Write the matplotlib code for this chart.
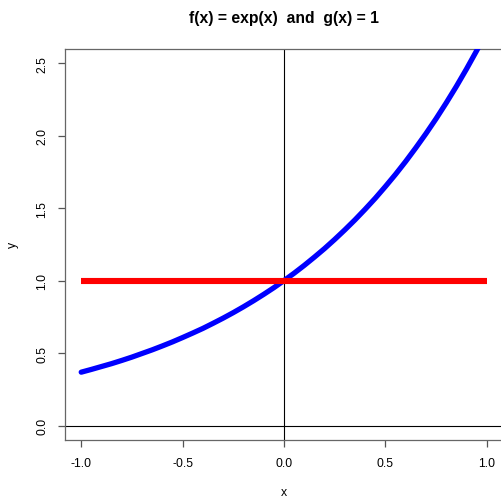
import matplotlib
matplotlib.use("Agg")
import matplotlib.pyplot as plt

plt.rcParams['font.family'] = ['Liberation Sans', 'DejaVu Sans']

# values
x_vals = [-1.0, -0.95, -0.9, -0.85, -0.8, -0.75, -0.7, -0.65, -0.6, -0.55,
          -0.5, -0.45, -0.4, -0.35, -0.3, -0.25, -0.2, -0.15, -0.1, -0.05,
          0.0, 0.05, 0.1, 0.15, 0.2, 0.25, 0.3, 0.35, 0.4, 0.45,
          0.5, 0.55, 0.6, 0.65, 0.7, 0.75, 0.8, 0.85, 0.9, 0.95, 1.0]
f_vals = [0.368, 0.387, 0.407, 0.427, 0.449, 0.472, 0.497, 0.522, 0.549, 0.577,
          0.607, 0.638, 0.670, 0.705, 0.741, 0.779, 0.819, 0.861, 0.905, 0.951,
          1.000, 1.051, 1.105, 1.162, 1.221, 1.284, 1.350, 1.419, 1.492, 1.568,
          1.649, 1.733, 1.822, 1.916, 2.014, 2.117, 2.226, 2.340, 2.460, 2.586, 2.718]
g_vals = [1.0] * len(x_vals)

x_ticks = [-1.0, -0.5, 0.0, 0.5, 1.0]
y_ticks = [0.0, 0.5, 1.0, 1.5, 2.0, 2.5]

W = 502
fig = plt.figure(figsize=(5.02, 5.02), dpi=100)
ax = fig.add_axes([65 / W, 1 - 441 / W, (503 - 65) / W, (441 - 49.7) / W])

ax.plot(x_vals, f_vals, color='blue', lw=3.8, solid_capstyle='round', zorder=3)
ax.plot(x_vals, g_vals, color='red', lw=4.4, solid_capstyle='butt', zorder=3)
ax.axhline(0, color='black', lw=0.8, zorder=2)
ax.axvline(0, color='black', lw=0.8, zorder=2)

ax.set_xlim(-1.08, 1.08)
ax.set_ylim(-0.1, 2.6)
ax.set_xticks(x_ticks)
ax.set_yticks(y_ticks)
ax.set_xticklabels([f"{v:.1f}" for v in x_ticks])
ax.set_yticklabels([f"{v:.1f}" for v in y_ticks], rotation=90, va='center')
ax.tick_params(length=5, width=0.9, color='#555555', labelsize=8.8, pad=7)
for s in ax.spines.values():
    s.set_color('#666666')
    s.set_linewidth(0.9)

fig.text(0.5 * (65 + 503) / W, 1 - 18 / W, "f(x) = exp(x)  and  g(x) = 1",
         ha='center', va='center', fontsize=11.3, fontweight='bold')
fig.text(0.5 * (65 + 503) / W, 1 - 493 / W, "x", ha='center', va='center', fontsize=8.8)
fig.text(13 / W, 1 - 245 / W, "y", ha='center', va='center', rotation=90, fontsize=8.8)

fig.savefig("out.png", dpi=100)
